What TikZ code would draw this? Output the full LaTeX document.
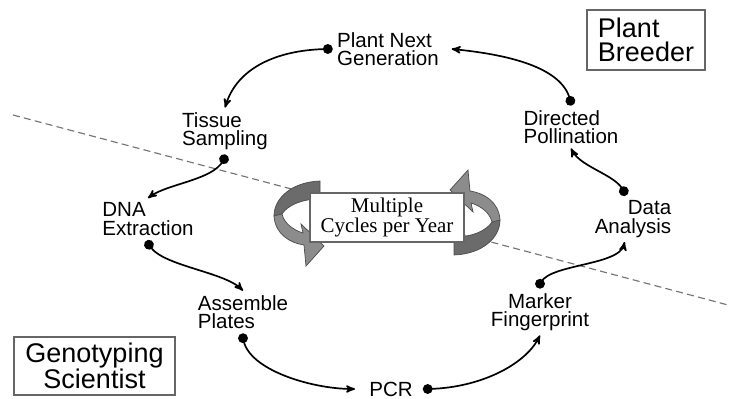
\documentclass[tikz,border=0pt]{standalone}
\usepackage{fontspec}
\setmainfont{Liberation Sans}
\newfontfamily\cycfont{Liberation Serif}
\usepackage{tikz}
\usetikzlibrary{arrows}

\tikzset{
  lbl/.style={font=\fontsize{14.6}{13.2}\selectfont,inner sep=3pt},
  role/.style={draw=black!60,line width=0.8pt,font=\fontsize{19.2}{17.4}\selectfont},
  link/.style={line width=1.2pt,*-stealth'},
  ribbon/.style={draw=black!70,line width=0.5pt}
}

\begin{document}
\begin{tikzpicture}[x=0.025cm,y=-0.025cm]
\useasboundingbox (0,0) rectangle (730,399);
% dividing line
\draw[thick,black!55,dash pattern=on 5pt off 3pt] (13,115) to (728,305);
% steps
\node[lbl,align=left] (gen) at (388,49) {Plant Next\\Generation};
\node[lbl,align=left] (tis) at (225,131) {Tissue\\Sampling};
\node[lbl,align=left] (dna) at (148,219) {DNA\\Extraction};
\node[lbl,align=left] (asm) at (243,312) {Assemble\\Plates};
\node[lbl] (pcr) at (391,389) {PCR};
\node[lbl,align=center] (mkr) at (540,312) {Marker\\Fingerprint};
\node[lbl,align=right] (dat) at (633,219) {Data\\Analysis};
\node[lbl,align=left] (dir) at (571,127) {Directed\\Pollination};
% role boxes
\node[role,align=left,minimum width=2.95cm,minimum height=1.5cm] (brd) at (646,40) {Plant\\Breeder};
\node[role,align=center,minimum width=4.025cm,minimum height=1.45cm] (geno) at (94.5,366) {Genotyping\\Scientist};
% turning arrows
\foreach \ang in {0,180}{
  \begin{scope}[rotate around={\ang:(387,218)}]
    \filldraw[ribbon,fill=black!58] (320,181) .. controls (292,182) and (274,198) .. (274,216)
      -- (282,214) .. controls (288,205) and (302,199) .. (320,199) -- cycle;
    \filldraw[ribbon,fill=black!45] (274,216) .. controls (275,234) and (290,243) .. (304,245)
      -- (306,266) -- (324,246) -- (301,224) -- (303,233)
      .. controls (293,230) and (284,223) .. (282,214) -- cycle;
  \end{scope}
}
\node[draw=black!60,fill=white,thick,minimum width=3.85cm,minimum height=1.225cm,align=center,
  font=\cycfont\fontsize{14.9}{13.2}\selectfont] (cyc) at (387,217.5) {Multiple\\Cycles per Year};
% cycle connectors
\draw[link] (gen.west) .. controls +(-55,0) and +(12,-40) .. (tis.north);
\draw[link] (tis.south) .. controls +(-5,25) and +(20,-15) .. (dna.north);
\draw[link] (dna.south) .. controls +(5,25) and +(-20,-20) .. (asm.north);
\draw[link] (asm.south) .. controls +(0,35) and +(-45,0) .. ([xshift=-7pt]pcr.west);
\draw[link] ([xshift=4pt]pcr.east) .. controls +(55,0) and +(-15,30) .. (mkr.south);
\draw[link] (mkr.north) .. controls +(0,-25) and +(-5,25) .. ([xshift=-6pt]dat.south);
\draw[link] ([xshift=-6pt]dat.north) .. controls +(-3,-20) and +(10,20) .. (dir.south);
\draw[link] (dir.north) .. controls +(-5,-40) and +(50,5) .. ([xshift=6pt]gen.east);
\end{tikzpicture}
\end{document}
